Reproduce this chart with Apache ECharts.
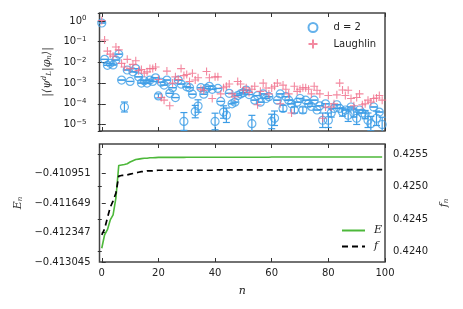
<!DOCTYPE html>
<html><head><meta charset="utf-8">
<script src="https://cdn.jsdelivr.net/npm/echarts@6/dist/echarts.min.js"></script>
<style>html,body{margin:0;padding:0;background:#fff}#c{width:463px;height:309px}</style>
</head><body><div id="c"></div>
<script>
const nValues = [0,1,2,3,4,5,6,7,8,9,10,11,12,13,14,15,16,17,18,19,20,21,22,23,24,25,26,27,28,29,30,31,32,33,34,35,36,37,38,39,40,41,42,43,44,45,46,47,48,49,50,51,52,53,54,55,56,57,58,59,60,61,62,63,64,65,66,67,68,69,70,71,72,73,74,75,76,77,78,79,80,81,82,83,84,85,86,87,88,89,90,91,92,93,94,95,96,97,98,99];

const overlapD2 = [0.8, 0.014, 0.0072, 0.009, 0.0075, 0.013, 0.025, 0.0014, 0.00007, 0.0043,
 0.0012, 0.0035, 0.005, 0.002, 0.001, 0.0013, 0.001, 0.0014, 0.0012, 0.0018,
 0.00024, 0.0011, 0.0008, 0.0014, 0.00032, 0.0006, 0.0002, 0.0014, 0.0009, 0.000014,
 0.00066, 0.0006, 0.00029, 0.000042, 0.000078, 0.0006, 0.00029, 0.00055, 0.0007, 0.0005,
 0.000014, 0.00055, 0.00013, 0.00004, 0.000028, 0.00032, 0.0001, 0.00012, 0.00025, 0.0003,
 0.00035, 0.00046, 0.00028, 0.000011, 0.00015, 0.00025, 0.00012, 0.0003, 0.00018, 0.00022,
 0.000014, 0.00002, 0.00015, 0.0003, 0.00006, 0.00022, 0.00015, 0.0001, 0.00005, 0.00012,
 0.00018, 0.00005, 0.00015, 0.0001, 0.000075, 0.00015, 0.00005, 0.00008, 0.000016, 0.0001,
 0.000016, 0.000036, 0.00006, 0.00009, 0.00006, 0.00004, 0.00005, 0.000028, 0.00007, 0.000036,
 0.00002, 0.00005, 0.000036, 0.00003, 0.000016, 0.000011, 0.00007, 0.00002, 0.00004, 0.00001];

// error bar half-length, in decades
const overlapD2Err = [0,0,0,0,0,0,0,0,0.24,0,
 0,0,0,0,0,0,0,0,0,0,
 0.1,0,0,0,0,0,0,0,0,0.43,
 0,0,0,0.3,0.3,0,0,0,0,0,
 0.4,0,0,0.3,0.35,0,0,0,0,0,
 0,0,0,0.4,0,0,0,0,0,0,
 0.35,0.35,0,0,0.15,0,0,0,0.15,0,
 0,0.15,0,0,0,0,0,0,0.35,0,
 0.35,0.2,0,0,0,0.2,0,0.3,0,0.2,
 0.3,0,0,0.2,0.35,0.35,0,0.35,0,0.35];

const overlapLaughlin = [1.05, 0.12, 0.035, 0.025, 0.02, 0.055, 0.04, 0.009, 0.006, 0.014,
 0.005, 0.008, 0.012, 0.004, 0.0045, 0.003, 0.0035, 0.005, 0.005, 0.006,
 0.0015, 0.0002, 0.00015, 0.0038, 0.00008, 0.001, 0.002, 0.0015, 0.005, 0.0023,
 0.0026, 0.0012, 0.003, 0.0014, 0.0018, 0.0005, 0.00045, 0.0036, 0.0018, 0.00018,
 0.002, 0.002, 0.0003, 0.0006, 0.0007, 0.0009, 0.0003, 0.00022, 0.0012, 0.0009,
 0.00045, 0.0006, 0.00035, 0.0005, 0.0007, 0.00009, 0.0004, 0.001, 0.00058, 0.0003,
 0.00058, 0.0007, 0.001, 0.0001, 0.0008, 0.0005, 0.0003, 0.000036, 0.0007, 0.0004,
 0.0005, 0.0006, 0.0006, 0.0005, 0.0003, 0.0007, 0.00045, 0.0003, 0.00002, 0.00007,
 0.00025, 0.00007, 0.0001, 0.00027, 0.001, 0.00046, 0.00025, 0.00045, 0.00018, 0.00008,
 0.0002, 0.0003, 0.00009, 0.0001, 0.00015, 0.00012, 0.00018, 0.00019, 0.00025, 0.00015];

const energy = [-0.41272, -0.41240, -0.41228, -0.41205, -0.41193, -0.41153, -0.41076, -0.41075, -0.41074, -0.41072,
 -0.41068, -0.41065, -0.41062, -0.41061, -0.41060, -0.41059, -0.41059, -0.41058, -0.41058, -0.410575,
 -0.41057, -0.41057, -0.41057, -0.41057, -0.41057, -0.41057, -0.41057, -0.41057, -0.41057, -0.41057,
 -0.410566, -0.410566, -0.410566, -0.410566, -0.410566, -0.410566, -0.410566, -0.410566, -0.410566, -0.410566,
 -0.410566, -0.410566, -0.410566, -0.410566, -0.410566, -0.410566, -0.410566, -0.410566, -0.410566, -0.410566,
 -0.410566, -0.410566, -0.410566, -0.410566, -0.410566, -0.410566, -0.410566, -0.410566, -0.410566, -0.410566,
 -0.410562, -0.410562, -0.410562, -0.410562, -0.410562, -0.410562, -0.410562, -0.410562, -0.410562, -0.410562,
 -0.410562, -0.410562, -0.410562, -0.410562, -0.410562, -0.410562, -0.410562, -0.410562, -0.410562, -0.410562,
 -0.410562, -0.410562, -0.410562, -0.410562, -0.410562, -0.410562, -0.410562, -0.410562, -0.410562, -0.410562,
 -0.410562, -0.410562, -0.410562, -0.410562, -0.410562, -0.410562, -0.410562, -0.410562, -0.410562, -0.410562];

const fidelity = [0.42426, 0.42435, 0.42452, 0.42468, 0.42478, 0.42490, 0.42516, 0.42517, 0.42517, 0.42518,
 0.42519, 0.42520, 0.42521, 0.42522, 0.42523, 0.42523, 0.42524, 0.42524, 0.42524, 0.425245,
 0.42525, 0.42525, 0.42525, 0.42525, 0.42525, 0.42525, 0.42525, 0.42525, 0.42525, 0.42525,
 0.42525, 0.42525, 0.42525, 0.42525, 0.42525, 0.42525, 0.42525, 0.42525, 0.42525, 0.42525,
 0.425255, 0.425255, 0.425255, 0.425255, 0.425255, 0.425255, 0.425255, 0.425255, 0.425255, 0.425255,
 0.425255, 0.425255, 0.425255, 0.425255, 0.425255, 0.425255, 0.425255, 0.425255, 0.425255, 0.425255,
 0.425255, 0.425255, 0.425255, 0.425255, 0.425255, 0.425255, 0.425255, 0.425255, 0.425255, 0.425255,
 0.42526, 0.42526, 0.42526, 0.42526, 0.42526, 0.42526, 0.42526, 0.42526, 0.42526, 0.42526,
 0.42526, 0.42526, 0.42526, 0.42526, 0.42526, 0.42526, 0.42526, 0.42526, 0.42526, 0.42526,
 0.42526, 0.42526, 0.42526, 0.42526, 0.42526, 0.42526, 0.42526, 0.42526, 0.42526, 0.42526];

const BLUE = '#3d9de6', PINK = '#f06c88', GREEN = '#4db83a';
const FONT = 'DejaVu Sans', MATH = 'DejaVu Serif';
const TICK = {inside: true, length: 4, lineStyle: {color: '#333', width: 1}};
const NOLINE = {show: false};
const NOSPLIT = {show: false};

const chart = echarts.init(document.getElementById('c'));

function powLabel(v) {
  const e = Math.round(Math.log10(v));
  return '{b|10}{s|' + (e < 0 ? '\u2212' + (-e) : e) + '}';
}
function minusFmt(v, d) {
  return (v < 0 ? '\u2212' : '') + Math.abs(v).toFixed(d);
}

const errData = nValues.map((x, i) => {
  const f = Math.pow(10, overlapD2Err[i]);
  return [x, overlapD2[i] / f, overlapD2[i] * f];
});

const option = {
  animation: false,
  backgroundColor: '#fff',
  grid: [
    {left: 99.5, top: 13, width: 285.5, height: 118, show: true, borderColor: '#444', borderWidth: 1.5, backgroundColor: 'transparent'},
    {left: 99.5, top: 144, width: 285.5, height: 118, show: true, borderColor: '#444', borderWidth: 1.5, backgroundColor: 'transparent'}
  ],
  xAxis: [
    {gridIndex: 0, type: 'value', min: -0.8, max: 100, position: 'bottom', axisLine: NOLINE, axisTick: TICK, axisLabel: {show: false}, splitLine: NOSPLIT},
    {gridIndex: 0, type: 'value', min: -0.8, max: 100, position: 'top', axisLine: NOLINE, axisTick: TICK, axisLabel: {show: false}, splitLine: NOSPLIT},
    {gridIndex: 1, type: 'value', min: -0.8, max: 100, position: 'bottom', axisLine: NOLINE, axisTick: TICK,
      axisLabel: {show: true, showMinLabel: false, fontSize: 10, fontFamily: FONT, color: '#222', margin: 6},
      splitLine: NOSPLIT, name: 'n', nameLocation: 'middle', nameGap: 24,
      nameTextStyle: {fontFamily: MATH, fontStyle: 'italic', fontSize: 11, color: '#222'}},
    {gridIndex: 1, type: 'value', min: -0.8, max: 100, position: 'top', axisLine: NOLINE, axisTick: TICK, axisLabel: {show: false}, splitLine: NOSPLIT}
  ],
  yAxis: [
    {gridIndex: 0, type: 'log', min: 4.85e-6, max: 2.43, position: 'left', axisLine: NOLINE, axisTick: TICK, splitLine: NOSPLIT,
      axisLabel: {showMinLabel: false, showMaxLabel: false, margin: 13, formatter: powLabel,
        rich: {b: {fontSize: 10, fontFamily: FONT, color: '#222', lineHeight: 12}, s: {fontSize: 7, fontFamily: FONT, color: '#222', verticalAlign: 'top', lineHeight: 12, padding: [0, 0, 6, 0]}}},
      name: '|\u27E8\u03C8{sup|d}{sub|L}|\u03C6{sub|n}\u27E9|', nameLocation: 'middle', nameGap: 36, nameRotate: 90,
      nameTextStyle: {fontFamily: MATH, fontStyle: 'italic', fontSize: 11, color: '#333',
        rich: {sup: {fontSize: 7, fontFamily: MATH, fontStyle: 'italic', color: '#333', padding: [0, 0, 6, 0]},
               sub: {fontSize: 7, fontFamily: MATH, fontStyle: 'italic', color: '#333', padding: [4, 0, 0, 0]}}}},
    {gridIndex: 0, type: 'log', min: 4.85e-6, max: 2.43, position: 'right', axisLine: NOLINE, axisTick: TICK, splitLine: NOSPLIT, axisLabel: {show: false}},
    {gridIndex: 1, type: 'value', min: -0.413045, max: -0.410253, interval: 0.000698, position: 'left', axisLine: NOLINE, axisTick: TICK, splitLine: NOSPLIT,
      axisLabel: {showMaxLabel: false, margin: 9, fontSize: 10, fontFamily: FONT, color: '#222', formatter: v => minusFmt(v, 6)},
      name: 'E{sub|n}', nameLocation: 'middle', nameGap: 72, nameRotate: 90,
      nameTextStyle: {fontFamily: MATH, fontStyle: 'italic', fontSize: 11, color: '#333',
        rich: {sub: {fontSize: 7, fontFamily: MATH, fontStyle: 'italic', color: '#333', padding: [4, 0, 0, 0]}}}},
    {gridIndex: 1, type: 'value', min: 0.423842, max: 0.425653, minInterval: 0.0005, maxInterval: 0.0005, position: 'right', axisLine: NOLINE, axisTick: TICK, splitLine: NOSPLIT,
      axisLabel: {showMinLabel: false, showMaxLabel: false, margin: 8, fontSize: 10, fontFamily: FONT, color: '#222', formatter: v => v.toFixed(4)},
      name: 'f{sub|n}', nameLocation: 'middle', nameGap: 48, nameRotate: 90,
      nameTextStyle: {fontFamily: MATH, fontStyle: 'italic', fontSize: 11, color: '#333',
        rich: {sub: {fontSize: 7, fontFamily: MATH, fontStyle: 'italic', color: '#333', padding: [4, 0, 0, 0]}}}}
  ],
  legend: [
    {data: ['d = 2', 'Laughlin'], orient: 'vertical', left: 301, top: 17, itemWidth: 9, itemHeight: 9, itemGap: 4,
      textStyle: {fontSize: 10, fontFamily: FONT, color: '#222', padding: [0, 0, 0, 11]}},
    {data: ['E', 'f'], orient: 'vertical', left: 336, top: 220, itemWidth: 23, itemHeight: 10, itemGap: 5,
      itemStyle: {opacity: 0},
      textStyle: {fontSize: 11, fontFamily: MATH, fontStyle: 'italic', color: '#222', padding: [0, 0, 0, 4]}}
  ],
  series: [
    {type: 'custom', name: 'err', xAxisIndex: 0, yAxisIndex: 0, clip: true, silent: true, data: errData, z: 2,
      renderItem: function (params, api) {
        const x = api.value(0);
        const pLo = api.coord([x, api.value(1)]);
        const pHi = api.coord([x, api.value(2)]);
        const w = 3.5;
        const st = {stroke: BLUE, lineWidth: 1.2};
        return {type: 'group', children: [
          {type: 'line', shape: {x1: pLo[0], y1: pLo[1], x2: pHi[0], y2: pHi[1]}, style: st},
          {type: 'line', shape: {x1: pLo[0] - w, y1: pLo[1], x2: pLo[0] + w, y2: pLo[1]}, style: st},
          {type: 'line', shape: {x1: pHi[0] - w, y1: pHi[1], x2: pHi[0] + w, y2: pHi[1]}, style: st}
        ]};
      }},
    {type: 'scatter', name: 'd = 2', xAxisIndex: 0, yAxisIndex: 0, symbol: 'circle', symbolSize: 8, z: 3,
      data: nValues.map((x, i) => [x, overlapD2[i]]),
      itemStyle: {color: 'rgba(0,0,0,0)', borderColor: BLUE, borderWidth: 1.2}, emphasis: {disabled: true}},
    {type: 'scatter', name: 'Laughlin', xAxisIndex: 0, yAxisIndex: 0, symbol: 'path://M5,0L5,10M0,5L10,5', symbolSize: 8, z: 4,
      data: nValues.map((x, i) => [x, overlapLaughlin[i]]),
      itemStyle: {color: 'none', borderColor: PINK, borderWidth: 1.1}, emphasis: {disabled: true}},
    {type: 'line', name: 'E', xAxisIndex: 2, yAxisIndex: 2, symbol: 'none', showSymbol: false,
      data: nValues.map((x, i) => [x, energy[i]]), lineStyle: {color: GREEN, width: 1.6}, itemStyle: {color: GREEN}},
    {type: 'line', name: 'f', xAxisIndex: 2, yAxisIndex: 3, symbol: 'none', showSymbol: false,
      data: nValues.map((x, i) => [x, fidelity[i]]), lineStyle: {color: '#000', width: 1.7, type: [6, 4]}, itemStyle: {color: '#000'}}
  ]
};
chart.setOption(option);
</script>
</body></html>
